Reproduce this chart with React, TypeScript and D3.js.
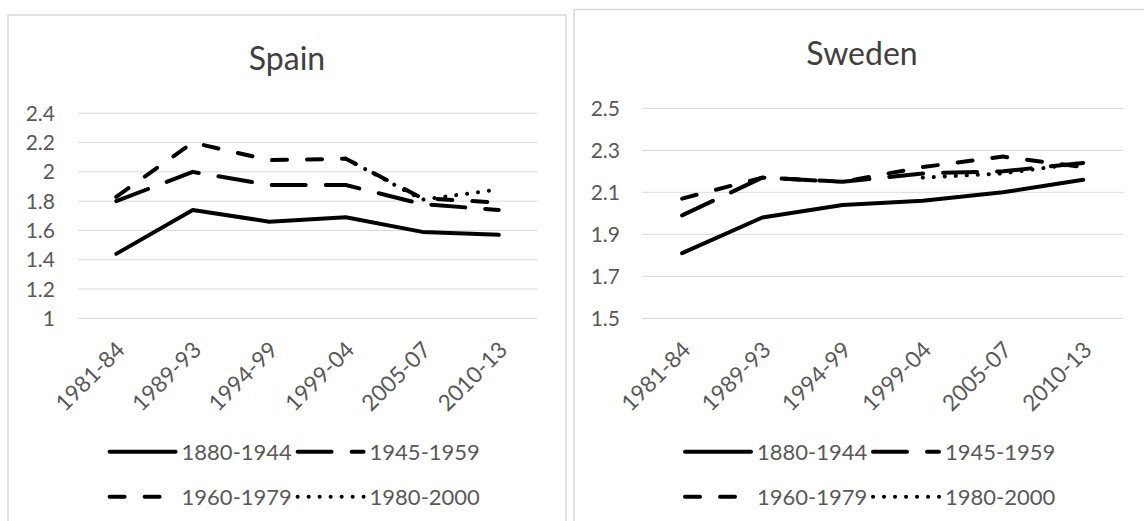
import React from "react";
import * as d3 from "d3";

const categories = ["1981-84", "1989-93", "1994-99", "1999-04", "2005-07", "2010-13"];
const seriesNames = ["1880-1944", "1945-1959", "1960-1979", "1980-2000"];

const spain1880 = [1.44, 1.74, 1.66, 1.69, 1.59, 1.57];
const spain1945 = [1.8, 2.0, 1.91, 1.91, 1.78, 1.74];
const spain1960 = [1.83, 2.2, 2.08, 2.09, 1.82, 1.79];
const spain1980 = [null, null, null, 2.09, 1.81, 1.88];

const sweden1880 = [1.81, 1.98, 2.04, 2.06, 2.1, 2.16];
const sweden1945 = [1.99, 2.17, 2.15, 2.19, 2.2, 2.24];
const sweden1960 = [2.07, 2.17, 2.15, 2.22, 2.27, 2.22];
const sweden1980 = [null, null, null, 2.17, 2.19, 2.24];

const spainTicks = [1, 1.2, 1.4, 1.6, 1.8, 2, 2.2, 2.4];
const swedenTicks = [1.5, 1.7, 1.9, 2.1, 2.3, 2.5];

const dashes = ["none", "34 20", "15 20", "0.1 10.9"];
const FONT = "Lato, 'Open Sans', sans-serif";

type PanelProps = {
  title: string;
  series: (number | null)[][];
  ticks: number[];
  domain: [number, number];
  box: { x: number; y: number; w: number };
  plot: { x0: number; x1: number; y0: number; y1: number };
  titleX: number;
  titleY: number;
  labelRight: number;
  legendX: number;
};

function Panel(p: PanelProps) {
  const x = d3.scaleBand<string>().domain(categories).range([p.plot.x0, p.plot.x1]);
  const y = d3.scaleLinear().domain(p.domain).range([p.plot.y1, p.plot.y0]);
  const cx = (c: string) => (x(c) as number) + x.bandwidth() / 2;
  const line = d3
    .line<number | null>()
    .defined((d) => d != null)
    .x((_, i) => cx(categories[i]))
    .y((d) => y(d as number));
  const fmt = (v: number) => String(+v.toFixed(1));
  const rows = [451.7, 496.7];
  const legendItems = seriesNames.map((n, i) => ({
    name: n,
    i,
    sx: p.legendX + (i % 2) * 188,
    sy: rows[Math.floor(i / 2)],
  }));
  return (
    <g>
      <rect x={p.box.x} y={p.box.y} width={p.box.w} height={560} fill="#fff" stroke="#d9d9d9" strokeWidth={1.5} />
      <text x={p.titleX} y={p.titleY} textAnchor="middle" fontFamily={FONT} fontSize={32} fill="#404040">
        {p.title}
      </text>
      {p.ticks.map((t) => (
        <g key={t}>
          <line x1={p.plot.x0} x2={p.plot.x1} y1={y(t)} y2={y(t)} stroke="#d9d9d9" strokeWidth={1} />
          <text x={p.labelRight} y={y(t)} dy="0.36em" textAnchor="end" fontFamily={FONT} fontSize={21} fill="#595959">
            {fmt(t)}
          </text>
        </g>
      ))}
      {categories.map((c) => (
        <text
          key={c}
          transform={`translate(${cx(c) + 10},${p.plot.y1 + 33}) rotate(-45)`}
          textAnchor="end"
          fontFamily={FONT}
          fontSize={22.5}
          fill="#595959"
        >
          {c}
        </text>
      ))}
      {p.series.map((s, i) => (
        <path
          key={i}
          d={line(s) || ""}
          fill="none"
          stroke="#000"
          strokeWidth={4}
          strokeDasharray={dashes[i]}
          strokeLinecap="round"
          strokeLinejoin="round"
        />
      ))}
      {legendItems.map((it) => (
        <g key={it.name}>
          <line
            x1={it.sx + 2}
            x2={it.sx + 68}
            y1={it.sy}
            y2={it.sy}
            stroke="#000"
            strokeWidth={4}
            strokeDasharray={dashes[it.i]}
            strokeLinecap="round"
          />
          <text x={it.sx + 74} y={it.sy} dy="0.36em" fontFamily={FONT} fontSize={22} fill="#595959">
            {it.name}
          </text>
        </g>
      ))}
    </g>
  );
}

export default function App() {
  return (
    <svg
      width={1144}
      height={521}
      style={{ position: "absolute", left: 0, top: 0, background: "#fff" }}
      xmlns="http://www.w3.org/2000/svg"
    >
      <rect x={0} y={0} width={1144} height={521} fill="#fff" />
      <Panel
        title="Spain"
        series={[spain1880, spain1945, spain1960, spain1980]}
        ticks={spainTicks}
        domain={[1, 2.4]}
        box={{ x: 8, y: 15, w: 558 }}
        plot={{ x0: 78, x1: 537, y0: 113.3, y1: 318.3 }}
        titleX={287}
        titleY={70}
        labelRight={55}
        legendX={107.6}
      />
      <Panel
        title="Sweden"
        series={[sweden1880, sweden1945, sweden1960, sweden1980]}
        ticks={swedenTicks}
        domain={[1.5, 2.5]}
        box={{ x: 574, y: 9.5, w: 600 }}
        plot={{ x0: 642, x1: 1123.3, y0: 108.3, y1: 318.3 }}
        titleX={862}
        titleY={65}
        labelRight={620}
        legendX={683}
      />
    </svg>
  );
}
